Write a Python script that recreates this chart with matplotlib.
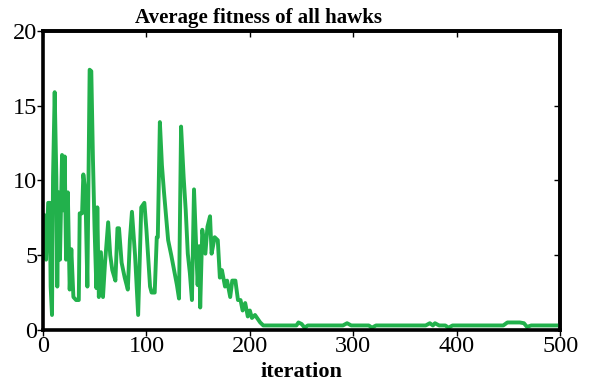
import numpy as np
import matplotlib
matplotlib.use("Agg")
import matplotlib.pyplot as plt

# average fitness per iteration (read at the turning points of the curve)
iters = [0, 1, 2, 3, 5, 6.5, 7.4, 8.7, 9.7, 11.3, 12.9, 13.8, 15, 16.4, 18.4, 19.7,
         21, 22.3, 24, 25.8, 27.4, 29.4, 32, 34.6, 35.5, 37.8, 39, 41, 42.9, 45.1,
         46.7, 48.3, 49.8, 51.6, 52.5, 54, 56, 58, 60, 63, 65, 67, 70, 72, 73.5,
         76, 79, 82, 84, 86, 89, 92, 95, 98, 100, 103.5, 105, 108, 110, 111, 113,
         115, 117, 119, 121, 124, 127, 129.5, 131.5, 133.5, 136, 138, 140, 142, 144,
         146, 148, 149.5, 151, 152, 154, 157, 159, 161.5, 163, 166, 169, 171, 173,
         176, 178, 181, 183, 186, 188.5, 191, 193, 195.5, 198, 200, 202, 205, 208,
         210, 213, 245, 247, 250, 253, 256, 290, 294, 298, 315, 318, 322, 370, 374,
         377, 379, 383, 389, 392, 396, 445, 449, 461, 465, 468, 472, 500]
fitness = [7.7, 7.7, 6.0, 4.7, 8.5, 8.5, 2.9, 1.0, 10.2, 15.9, 10.2, 2.9, 9.2, 4.7, 11.7, 8.0,
           11.6, 4.7, 9.2, 2.7, 5.4, 2.2, 2.0, 2.0, 7.8, 7.8, 10.4, 9.2, 2.9, 17.4,
           17.3, 11.4, 6.9, 2.8, 8.2, 2.2, 5.2, 2.2, 4.5, 7.2, 5.0, 4.0, 3.3, 6.8, 6.8,
           4.5, 3.5, 2.7, 6.0, 7.9, 5.0, 1.0, 8.2, 8.5, 6.7, 2.9, 2.5, 2.5, 6.2, 6.2, 13.9,
           11.0, 9.2, 7.6, 6.0, 5.0, 3.9, 3.0, 2.1, 13.6, 10.2, 8.0, 5.1, 3.8, 2.0,
           9.4, 5.8, 3.0, 5.6, 1.5, 6.7, 5.1, 6.9, 7.6, 5.1, 6.2, 6.0, 3.5, 4.0,
           2.9, 3.3, 2.2, 3.3, 3.3, 2.0, 2.0, 1.3, 1.8, 0.9, 1.3, 0.8, 1.0, 0.7,
           0.5, 0.3, 0.3, 0.5, 0.4, 0.15, 0.3, 0.3, 0.45, 0.3, 0.3, 0.15, 0.3, 0.3, 0.45,
           0.3, 0.45, 0.3, 0.3, 0.15, 0.3, 0.3, 0.5, 0.5, 0.45, 0.2, 0.3, 0.3]

x_ticks = [0, 100, 200, 300, 400, 500]
y_ticks = [0, 5, 10, 15, 20]

plt.rcParams['font.family'] = 'Liberation Serif'

fig = plt.figure(figsize=(5.89, 3.81), dpi=100)
ax = fig.add_axes([0.073, 0.134, 0.878, 0.785])

ax.plot(iters, fitness, color='#22B14C', lw=2.8)

ax.set_xlim(0, 500)
ax.set_ylim(0, 20)
ax.set_xticks(x_ticks)
ax.set_yticks(y_ticks)
ax.tick_params(axis='both', labelsize=17.5, length=4, width=1, direction='out', pad=0)

# inward ticks on the top and right edges
top = ax.secondary_xaxis('top')
top.set_xticks(x_ticks)
top.tick_params(direction='in', length=4, width=1, labeltop=False)
right = ax.secondary_yaxis('right')
right.set_yticks(y_ticks)
right.tick_params(direction='in', length=4, width=1, labelright=False)

for a in (ax, top, right):
    for sp in a.spines.values():
        sp.set_linewidth(2.6)

ax.text(0.416, 1.008, 'Average fitness of all hawks', transform=ax.transAxes,
        ha='center', va='bottom', fontsize=15, fontweight='bold')
ax.set_xlabel('iteration', fontsize=16, fontweight='bold', labelpad=4)

fig.savefig('out.png', dpi=100)
